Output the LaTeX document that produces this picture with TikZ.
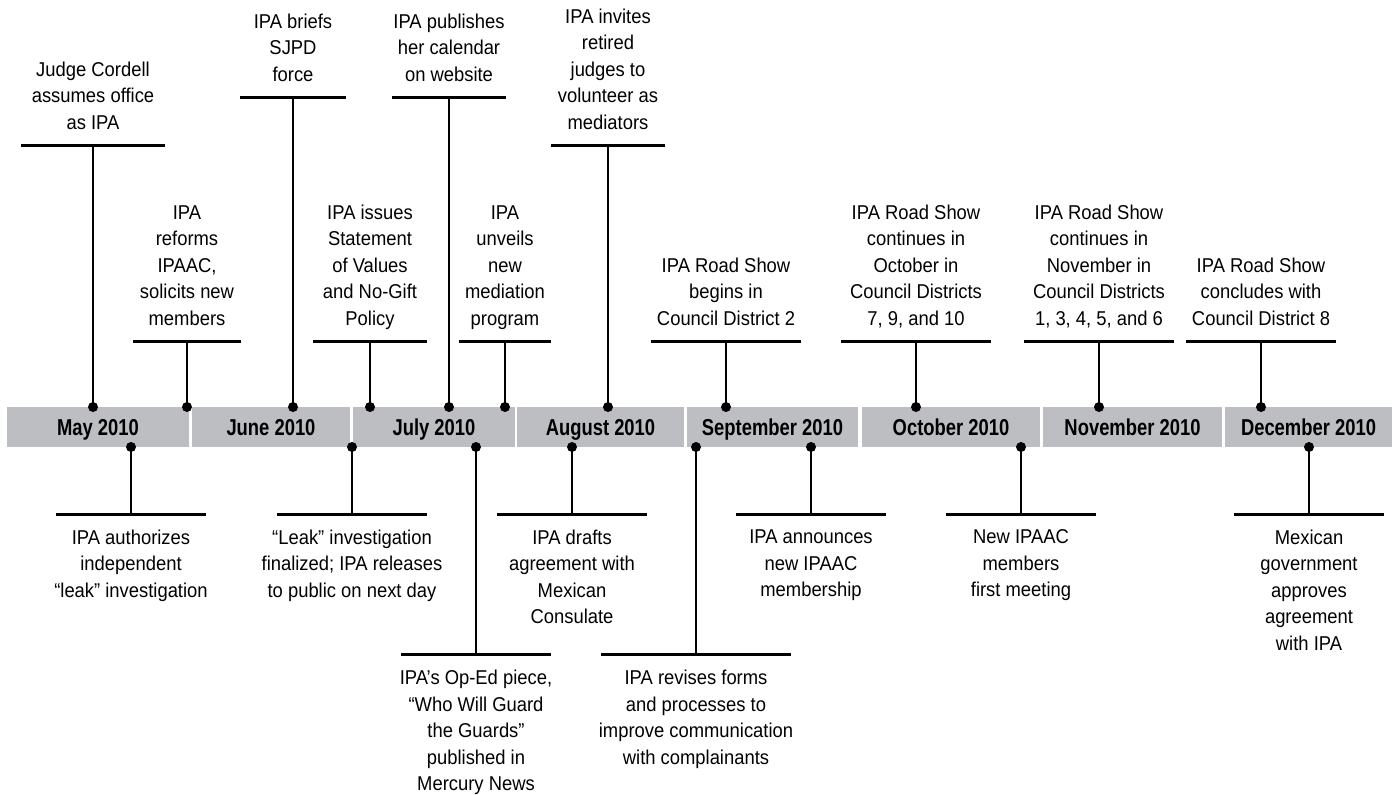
\documentclass[tikz,border=0pt]{standalone}
\usepackage{fontspec}
\setmainfont{Liberation Sans}[FakeStretch=0.92]
\newfontfamily\barfont{Liberation Sans}[FakeStretch=0.8]
\definecolor{bargray}{RGB}{189,190,194}
\newcommand\evup[5]{%
  \node[dot] (#1d) at (#2,407) {};
  \coordinate (#1l) at (#2-#4,#3);
  \coordinate (#1r) at (#2+#4,#3);
  \coordinate (#1m) at (#2,#3);
  \draw[hline] (#1l) -- (#1r);
  \draw[vline] (#1d.center) -- (#1m);
  \node[evtext, anchor=south] (#1t) at (#2,#3-10.3) {#5};
}
\newcommand\evdown[5]{%
  \node[dot] (#1d) at (#2,447) {};
  \coordinate (#1l) at (#2-#4,#3);
  \coordinate (#1r) at (#2+#4,#3);
  \coordinate (#1m) at (#2,#3);
  \draw[hline] (#1l) -- (#1r);
  \draw[vline] (#1d.center) -- (#1m);
  \node[evtext, anchor=north] (#1t) at (#2,#3+15.8) {#5};
}
\begin{document}
\begin{tikzpicture}[x=1pt,y=-1pt,
  month/.style={fill=bargray, inner sep=0pt, minimum height=40pt,
    font=\barfont\bfseries\fontsize{23}{23}\selectfont, text height=16.5pt, text depth=0pt},
  dot/.style={circle, fill=black, inner sep=0pt, minimum size=10pt},
  hline/.style={line width=3pt},
  vline/.style={line width=1.6pt},
  evtext/.style={align=center, inner sep=0pt, font=\fontsize{20}{26.5}\selectfont,
    execute at begin node={\rule{0pt}{15pt}},
    execute at end node={\rule[-5.5pt]{0pt}{5.5pt}}}
]
\useasboundingbox (0,0) rectangle (1398,795);
% month bar
\node[month, minimum width=182pt] (m1) at (98,427) {May 2010};
\node[month, minimum width=158pt] (m2) at (271,427) {June 2010};
\node[month, minimum width=162pt] (m3) at (434,427) {July 2010};
\node[month, minimum width=167pt] (m4) at (600.5,427) {August 2010};
\node[month, minimum width=171pt] (m5) at (772.5,427) {September 2010};
\node[month, minimum width=178pt] (m6) at (951,427) {October 2010};
\node[month, minimum width=179pt] (m7) at (1132.5,427) {November 2010};
\node[month, minimum width=167pt] (m8) at (1308.5,427) {December 2010};
% events above
\evup{a}{93}{145}{72}{Judge Cordell\\assumes office\\as IPA}
\evup{b}{187}{341}{54}{IPA\\reforms\\IPAAC,\\solicits new\\members}
\evup{c}{293}{97}{53}{IPA briefs\\SJPD\\force}
\evup{e}{370}{341}{57}{IPA issues\\Statement\\of Values\\and No-Gift\\Policy}
\evup{f}{449}{97}{57}{IPA publishes\\her calendar\\on website}
\evup{g}{505}{341}{46}{IPA\\unveils\\new\\mediation\\program}
\evup{h}{608}{145}{57}{IPA invites\\retired\\judges to\\volunteer as\\mediators}
\evup{i}{726}{341}{75}{IPA Road Show\\begins in\\Council District 2}
\evup{j}{916}{341}{75}{IPA Road Show\\continues in\\October in\\Council Districts\\7, 9, and 10}
\evup{k}{1099}{341}{75}{IPA Road Show\\continues in\\November in\\Council Districts\\1, 3, 4, 5, and 6}
\evup{n}{1261}{341}{75}{IPA Road Show\\concludes with\\Council District 8}
% events below
\evdown{p}{131}{514}{75}{IPA authorizes\\independent\\“leak” investigation}
\evdown{q}{352}{514}{75}{“Leak” investigation\\finalized; IPA releases\\to public on next day}
\evdown{r}{476}{654}{75}{IPA’s Op-Ed piece,\\“Who Will Guard\\the Guards”\\published in\\Mercury News}
\evdown{s}{572}{514}{75}{IPA drafts\\agreement with\\Mexican\\Consulate}
\evdown{t}{696}{654}{95}{IPA revises forms\\and processes to\\improve communication\\with complainants}
\evdown{u}{811}{514}{75}{IPA announces\\new IPAAC\\membership}
\evdown{v}{1021}{514}{75}{New IPAAC\\members\\first meeting}
\evdown{w}{1309}{514}{75}{Mexican\\government\\approves\\agreement\\with IPA}
\end{tikzpicture}
\end{document}
